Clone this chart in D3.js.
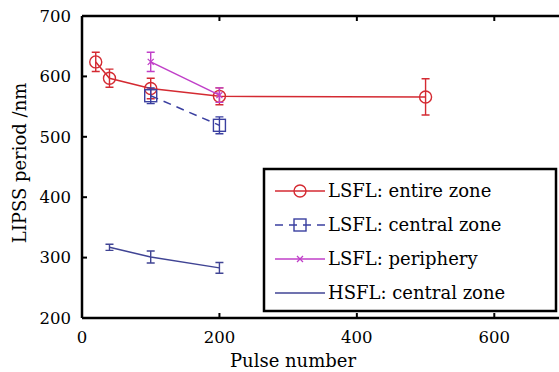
<!DOCTYPE html>
<html>
<head>
<meta charset="utf-8">
<script src="https://cdn.jsdelivr.net/npm/d3@7"></script>
</head>
<body style="margin:0">
<script>
// data
var entireX = [20, 40, 100, 200, 500],
    entireY = [624, 597, 580, 567, 566],
    entireErr = [16, 15, 17, 14, 30];

var centralX = [100, 200],
    centralY = [568, 519],
    centralErr = [13, 14];

var peripheryX = [100, 200],
    peripheryY = [624, 569],
    peripheryErr = [16, 12];

var hsflX = [40, 100, 200],
    hsflY = [317, 301, 283],
    hsflErr = [5, 10, 9];

var xTicks = [0, 200, 400, 600],
    yTicks = [200, 300, 400, 500, 600, 700];

var legendLabels = ["LSFL: entire zone", "LSFL: central zone", "LSFL: periphery", "HSFL: central zone"];

var FONT = "DejaVu Serif";

// *************
// ** CHART   **
// *************
var margin = { top: 16, left: 82, right: -4, bottom: 54 },
    width = 559 - margin.left - margin.right,
    height = 372 - margin.top - margin.bottom;

var svg = d3.select("body")
    .append("svg")
    .attr("width", 559)
    .attr("height", 372)
    .attr("font-family", FONT);

var g = svg.append("g")
    .attr("transform", "translate(" + margin.left + "," + margin.top + ")");

var x = d3.scaleLinear().domain([0, 700]).range([0, width]);
var y = d3.scaleLinear().domain([200, 700]).range([height, 0]);

function toPoints(xs, ys, es) {
    return xs.map(function (d, i) { return { x: d, y: ys[i], e: es[i] }; });
}

var series = [
    { name: legendLabels[0], color: "#d42a32", dash: null, marker: "circle", values: toPoints(entireX, entireY, entireErr) },
    { name: legendLabels[1], color: "#3a3fa0", dash: "8,6", marker: "square", values: toPoints(centralX, centralY, centralErr) },
    { name: legendLabels[2], color: "#c03fc8", dash: null, marker: "cross", values: toPoints(peripheryX, peripheryY, peripheryErr) },
    { name: legendLabels[3], color: "#404494", dash: null, marker: "none", values: toPoints(hsflX, hsflY, hsflErr) }
];

var line = d3.line()
    .x(function (d) { return x(d.x); })
    .y(function (d) { return y(d.y); });

function drawMarker(sel, type, color) {
    if (type == "circle") {
        sel.append("circle").attr("r", 6).attr("fill", "none")
            .attr("stroke", color).attr("stroke-width", 1.4);
    } else if (type == "square") {
        sel.append("rect").attr("x", -6).attr("y", -6).attr("width", 12).attr("height", 12)
            .attr("fill", "none").attr("stroke", color).attr("stroke-width", 1.4);
    } else if (type == "cross") {
        sel.append("path").attr("d", "M-3,-3L3,3M-3,3L3,-3")
            .attr("stroke", color).attr("stroke-width", 1.3);
    }
}

function serif(sel, size) {
    return sel.attr("font-family", FONT).attr("font-size", size);
}

var plot = g.append("g").attr("class", "series");

series.forEach(function (s) {
    var sg = plot.append("g");
    sg.append("path")
        .attr("d", line(s.values))
        .attr("fill", "none")
        .attr("stroke", s.color)
        .attr("stroke-width", 1.5)
        .attr("stroke-dasharray", s.dash);

    var pts = sg.selectAll(".pt")
        .data(s.values)
        .enter().append("g")
        .attr("class", "pt")
        .attr("transform", function (d) { return "translate(" + x(d.x) + "," + y(d.y) + ")"; });

    // error bars
    pts.append("path")
        .attr("d", function (d) {
            var t = y(d.y + d.e) - y(d.y), b = y(d.y - d.e) - y(d.y);
            return "M0," + t + "V" + b + "M-4," + t + "H4M-4," + b + "H4";
        })
        .attr("fill", "none")
        .attr("stroke", s.color)
        .attr("stroke-width", 1.4);

    pts.each(function () { drawMarker(d3.select(this), s.marker, s.color); });
});

// axes frame
g.append("line").attr("x1", 0).attr("x2", width).attr("y1", 0).attr("y2", 0)
    .attr("stroke", "#000").attr("stroke-width", 2.5);
g.append("line").attr("x1", 0).attr("x2", width).attr("y1", height).attr("y2", height)
    .attr("stroke", "#000").attr("stroke-width", 2.5);
g.append("line").attr("x1", 0).attr("x2", 0).attr("y1", 0).attr("y2", height)
    .attr("stroke", "#000").attr("stroke-width", 2.5);

// inward ticks
g.selectAll(".xtick-b").data(xTicks).enter().append("line")
    .attr("x1", function (d) { return x(d); }).attr("x2", function (d) { return x(d); })
    .attr("y1", height).attr("y2", height - 5)
    .attr("stroke", "#000").attr("stroke-width", 2);
g.selectAll(".xtick-t").data(xTicks).enter().append("line")
    .attr("x1", function (d) { return x(d); }).attr("x2", function (d) { return x(d); })
    .attr("y1", 0).attr("y2", 5)
    .attr("stroke", "#000").attr("stroke-width", 2);
g.selectAll(".ytick").data(yTicks).enter().append("line")
    .attr("x1", 0).attr("x2", 5)
    .attr("y1", function (d) { return y(d); }).attr("y2", function (d) { return y(d); })
    .attr("stroke", "#000").attr("stroke-width", 2);

// tick labels
serif(g.selectAll(".xlab").data(xTicks).enter().append("text")
    .attr("x", function (d) { return x(d); })
    .attr("y", height + 25)
    .attr("text-anchor", "middle")
    .text(function (d) { return d; }), 16.5);
serif(g.selectAll(".ylab").data(yTicks).enter().append("text")
    .attr("x", -11)
    .attr("y", function (d) { return y(d); })
    .attr("dy", "0.35em")
    .attr("text-anchor", "end")
    .text(function (d) { return d; }), 16.5);

// axis titles
serif(svg.append("text")
    .attr("x", 293)
    .attr("y", 367)
    .attr("text-anchor", "middle")
    .text("Pulse number"), 18);
serif(svg.append("text")
    .attr("transform", "translate(26,163) rotate(-90)")
    .attr("text-anchor", "middle")
    .text("LIPSS period /nm"), 18);

// legend
var lg = svg.append("g").attr("transform", "translate(264,169)");
lg.append("rect")
    .attr("width", 292).attr("height", 142)
    .attr("fill", "#fff").attr("stroke", "#000").attr("stroke-width", 2.5);

var items = lg.selectAll(".item")
    .data(series)
    .enter().append("g")
    .attr("class", "item")
    .attr("transform", function (d, i) { return "translate(0," + (22 + i * 34) + ")"; });

items.append("line")
    .attr("x1", 11).attr("x2", 61)
    .attr("stroke", function (d) { return d.color; })
    .attr("stroke-width", 1.5)
    .attr("stroke-dasharray", function (d) { return d.dash; });
items.each(function (d) {
    var m = d3.select(this).append("g").attr("transform", "translate(36,0)");
    drawMarker(m, d.marker, d.color);
});
serif(items.append("text")
    .attr("x", 64)
    .attr("dy", "0.35em")
    .text(function (d) { return d.name; }), 18);
</script>
</body>
</html>
